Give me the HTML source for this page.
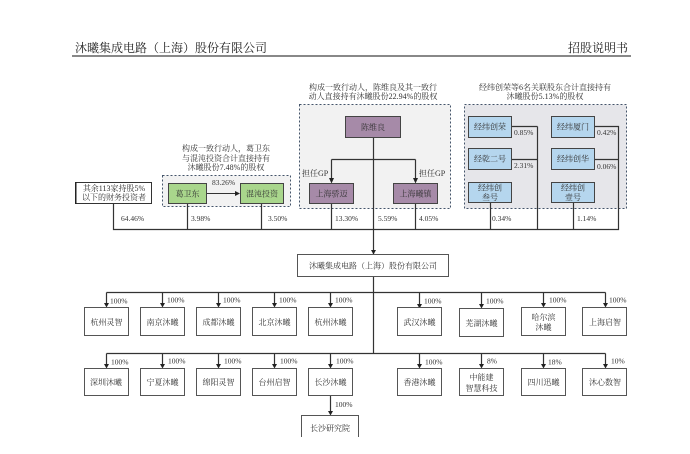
<!DOCTYPE html>
<html>
<head>
<meta charset="utf-8">
<style>
html,body{margin:0;padding:0;background:#fff;width:690px;height:454px;overflow:hidden}
svg{display:block}
text{font-family:"Liberation Serif","Noto Serif CJK SC",serif;font-size:8px;fill:#333}
.h{font-size:12px;fill:#222}
.p{font-size:7.5px}
.c{text-anchor:middle}
.l{stroke:#333;stroke-width:1;fill:none}
.m{stroke:#333;stroke-width:1.2;fill:none}
.w{fill:#fff;stroke:#555;stroke-width:1}
.g{fill:#a9d68c;stroke:#444;stroke-width:1}
.u{fill:#a68aa8;stroke:#444;stroke-width:1}
.b{fill:#b5d6ee;stroke:#444;stroke-width:1}
.d{stroke:#44546a;stroke-width:1;stroke-dasharray:2 2}
.a{fill:#222;stroke:none}
</style>
</head>
<body>
<svg width="690" height="454" viewBox="0 0 690 454" xmlns="http://www.w3.org/2000/svg">
<rect width="690" height="454" fill="#fff"/>
<text class="h" x="75" y="52">沐曦集成电路（上海）股份有限公司</text>
<text class="h" x="568" y="52">招股说明书</text>
<rect x="72" y="55.5" width="559" height="1" fill="#111"/>

<text class="c" x="226" y="151">构成一致行动人，葛卫东</text>
<text class="c" x="226" y="161">与混沌投资合计直接持有</text>
<text class="c" x="226" y="170">沐曦股份7.48%的股权</text>
<text class="c" x="373" y="90">构成一致行动人，陈维良及其一致行</text>
<text class="c" x="373" y="99">动人直接持有沐曦股份22.94%的股权</text>
<text class="c" x="545" y="90">经纬创荣等6名关联股东合计直接持有</text>
<text class="c" x="545" y="99">沐曦股份5.13%的股权</text>

<rect class="d" x="162.5" y="175.5" width="128" height="31" fill="#f2f2f2"/>
<rect class="d" x="299.5" y="104.5" width="151" height="104" fill="#f2f2f2"/>
<rect class="d" x="464.5" y="104.5" width="162" height="104" fill="#e6e6ea"/>

<!-- top connectors -->
<path class="m" d="M113.5 203V229.5H618.5V126.5H594M537.5 126.5H511M537.5 159.5H511M537.5 126.5V229.5M618.5 159.5H594"/>
<path class="m" d="M187.5 203V229.5M261.5 203V229.5M331.5 203V229.5M415.5 203V229.5M490.5 202V229.5M573.5 202V229.5"/>
<path class="m" d="M373.5 137V254"/>
<path class="m" d="M331.5 159.5H415.5M331.5 159.5V178M415.5 159.5V178"/>
<path class="a" d="M329 178H334L331.500 183.500ZM413 178H418L415.500 183.500ZM371 250H376L373.500 254.500Z"/>
<path class="l" d="M207 193.500H235"/>
<path class="a" d="M235 191L240 193.500L235 196Z"/>

<rect x="75.500" y="182.500" width="76" height="21" fill="#fff" stroke="#333"/>
<rect x="75" y="182" width="1.500" height="22" fill="#222"/>
<text class="c" x="114" y="191">其余113家持股5%</text>
<text class="c" x="114" y="200">以下的财务投资者</text>

<rect class="g" x="168.500" y="183.500" width="38" height="20"/>
<rect class="g" x="240.500" y="183.500" width="43" height="20"/>
<text class="c" x="187.500" y="196.500">葛卫东</text>
<text class="c" x="262" y="196.500">混沌投资</text>
<text class="p" x="212" y="185">83.26%</text>

<rect class="u" x="345.500" y="116.500" width="55" height="21"/>
<rect class="u" x="309.500" y="183.500" width="44" height="20"/>
<rect class="u" x="393.500" y="183.500" width="44" height="20"/>
<text class="c" x="373" y="130">陈维良</text>
<text class="c" x="331.500" y="196.500">上海骄迈</text>
<text class="c" x="415.500" y="196.500">上海曦镇</text>
<text x="302" y="176">担任GP</text>
<text x="419" y="176">担任GP</text>

<rect class="b" x="468.500" y="116.500" width="43" height="21"/>
<rect class="b" x="551.500" y="116.500" width="43" height="21"/>
<rect class="b" x="468.500" y="148.500" width="43" height="21"/>
<rect class="b" x="551.500" y="148.500" width="43" height="21"/>
<rect class="b" x="468.500" y="182.500" width="43" height="20"/>
<rect class="b" x="551.500" y="182.500" width="43" height="20"/>
<text class="c" x="490" y="129.500">经纬创荣</text>
<text class="c" x="573" y="129.500">经纬厦门</text>
<text class="c" x="490" y="161.500">经乾二号</text>
<text class="c" x="573" y="161.500">经纬创华</text>
<text class="c" x="490" y="190.500">经纬创</text>
<text class="c" x="490" y="200">叁号</text>
<text class="c" x="573" y="190.500">经纬创</text>
<text class="c" x="573" y="200">壹号</text>
<text class="p" x="514" y="135">0.85%</text>
<text class="p" x="597" y="135">0.42%</text>
<text class="p" x="514" y="168">2.31%</text>
<text class="p" x="597" y="169">0.06%</text>

<text class="p" x="121" y="221">64.46%</text>
<text class="p" x="191" y="221">3.98%</text>
<text class="p" x="268" y="221">3.50%</text>
<text class="p" x="335" y="221">13.30%</text>
<text class="p" x="378" y="221">5.59%</text>
<text class="p" x="419" y="221">4.05%</text>
<text class="p" x="492" y="221">0.34%</text>
<text class="p" x="577" y="221">1.14%</text>

<!-- company -->
<rect class="w" x="297.500" y="254.500" width="151" height="22"/>
<text class="c" x="373" y="268.500">沐曦集成电路（上海）股份有限公司</text>

<path class="m" d="M373.500 277V353"/>
<path class="m" d="M106.500 292.500H605.500M106.500 353.500H605.500"/>
<path class="m" d="M106.500 292.500V303M162.500 292.500V303M218.500 292.500V303M274.500 292.500V303M330.500 292.500V303M419.500 292.500V304M481.500 292.500V304M543.500 292.500V303M605.500 292.500V303"/>
<path class="m" d="M106.500 353.500V364M162.500 353.500V364M218.500 353.500V364M274.500 353.500V364M330.500 353.500V364M419.500 353.500V364M481.500 353.500V364M543.500 353.500V364M605.500 353.500V364M330.500 396V411"/>
<path class="a" d="M104 303H109L106.500 307.500ZM160 303H165L162.500 307.500ZM216 303H221L218.500 307.500ZM272 303H277L274.500 307.500ZM328 303H333L330.500 307.500ZM417 304H422L419.500 308.500ZM479 304H484L481.500 308.500ZM541 303H546L543.500 307.500ZM603 303H608L605.500 307.500Z"/>
<path class="a" d="M104 364H109L106.500 368.500ZM160 364H165L162.500 368.500ZM216 364H221L218.500 368.500ZM272 364H277L274.500 368.500ZM328 364H333L330.500 368.500ZM417 364H422L419.500 368.500ZM479 364H484L481.500 368.500ZM541 364H546L543.500 368.500ZM603 364H608L605.500 368.500ZM328 411H333L330.500 415.500Z"/>

<!-- row 1 -->
<g>
<rect class="w" x="84.500" y="307.500" width="44" height="28"/>
<rect class="w" x="140.500" y="307.500" width="44" height="28"/>
<rect class="w" x="196.500" y="307.500" width="44" height="28"/>
<rect class="w" x="252.500" y="307.500" width="44" height="28"/>
<rect class="w" x="308.500" y="307.500" width="44" height="28"/>
<rect class="w" x="397.500" y="307.500" width="44" height="28"/>
<rect class="w" x="459.500" y="308.500" width="44" height="28"/>
<rect class="w" x="521.500" y="307.500" width="44" height="28"/>
<rect class="w" x="582.500" y="307.500" width="44" height="28"/>
</g>
<text class="c" x="106.500" y="325">杭州灵智</text>
<text class="c" x="162.500" y="325">南京沐曦</text>
<text class="c" x="218.500" y="325">成都沐曦</text>
<text class="c" x="274.500" y="325">北京沐曦</text>
<text class="c" x="330.500" y="325">杭州沐曦</text>
<text class="c" x="419.500" y="325">武汉沐曦</text>
<text class="c" x="481.500" y="326">芜湖沐曦</text>
<text class="c" x="543.500" y="320">哈尔滨</text>
<text class="c" x="543.500" y="330">沐曦</text>
<text class="c" x="605" y="325">上海启智</text>
<text class="p" x="110" y="303.500">100%</text>
<text class="p" x="167" y="302.500">100%</text>
<text class="p" x="223" y="302.500">100%</text>
<text class="p" x="279" y="302.500">100%</text>
<text class="p" x="335" y="302.500">100%</text>
<text class="p" x="424" y="303.500">100%</text>
<text class="p" x="486" y="303.500">100%</text>
<text class="p" x="549" y="302.500">100%</text>
<text class="p" x="609" y="302.500">100%</text>

<!-- row 2 -->
<g>
<rect class="w" x="84.500" y="368.500" width="44" height="27"/>
<rect class="w" x="140.500" y="368.500" width="44" height="27"/>
<rect class="w" x="196.500" y="368.500" width="44" height="27"/>
<rect class="w" x="252.500" y="368.500" width="44" height="27"/>
<rect class="w" x="308.500" y="368.500" width="44" height="27"/>
<rect class="w" x="397.500" y="368.500" width="44" height="27"/>
<rect class="w" x="459.500" y="368.500" width="44" height="27"/>
<rect class="w" x="521.500" y="368.500" width="44" height="27"/>
<rect class="w" x="582.500" y="368.500" width="44" height="27"/>
</g>
<text class="c" x="106" y="385">深圳沐曦</text>
<text class="c" x="162.500" y="385">宁夏沐曦</text>
<text class="c" x="218.500" y="385">绵阳灵智</text>
<text class="c" x="274.500" y="385">台州启智</text>
<text class="c" x="330.500" y="385">长沙沐曦</text>
<text class="c" x="419.500" y="385">香港沐曦</text>
<text class="c" x="481.500" y="380">中能建</text>
<text class="c" x="481.500" y="391">智慧科技</text>
<text class="c" x="543.500" y="385">四川迅曦</text>
<text class="c" x="605" y="385">沐心数智</text>
<text class="p" x="111" y="364.500">100%</text>
<text class="p" x="168" y="363.500">100%</text>
<text class="p" x="224" y="363.500">100%</text>
<text class="p" x="280" y="363.500">100%</text>
<text class="p" x="336" y="363.500">100%</text>
<text class="p" x="425" y="364.500">100%</text>
<text class="p" x="487" y="363.500">8%</text>
<text class="p" x="548" y="364.500">18%</text>
<text class="p" x="611" y="363.500">10%</text>
<text class="p" x="335" y="407">100%</text>

<path class="w" style="fill:#fff" d="M301.500 437V415.500H358.500V437"/>
<text class="c" x="330" y="431">长沙研究院</text>
</svg>
</body>
</html>
